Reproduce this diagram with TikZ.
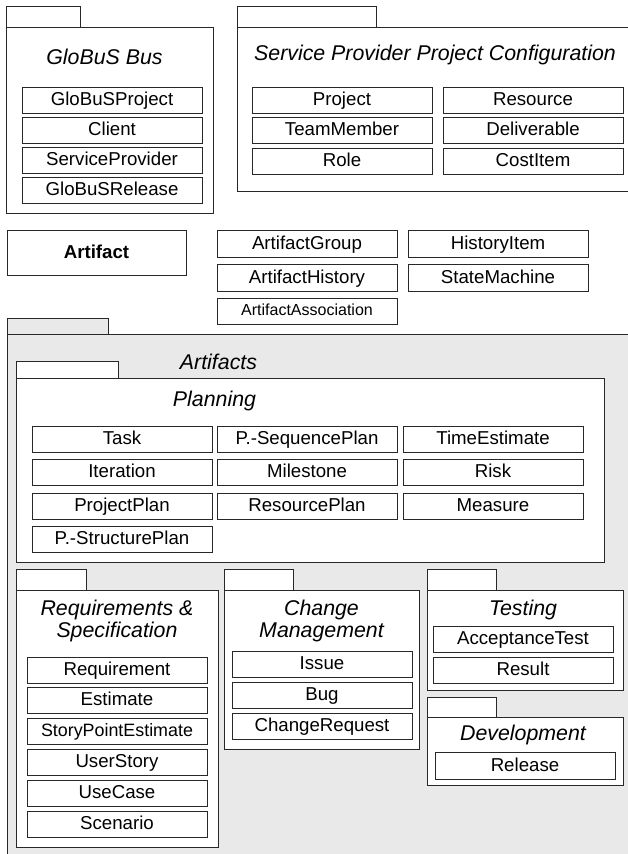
\documentclass[tikz,border=0pt]{standalone}
\usepackage{fontspec}
\setmainfont{Liberation Sans}
\definecolor{linec}{RGB}{40,40,40}
\definecolor{pkggray}{RGB}{233,233,233}
\newcommand\pkbox[7][]{%
  \pgfmathsetmacro\bxw{(#5-#3)*0.75}%
  \pgfmathsetmacro\bxh{(#6-#4)*0.75}%
  \pgfmathsetmacro\bxx{(#3+#5)/2}%
  \pgfmathsetmacro\bxy{(#4+#6)/2}%
  \node[#1, minimum width=\bxw pt, minimum height=\bxh pt] (#2) at (\bxx,\bxy) {#7};}
\begin{document}
\begin{tikzpicture}[x=0.75pt,y=-0.75pt,
  pkg/.style={draw=linec, line width=0.75pt, fill=white, inner sep=0pt},
  graypkg/.style={pkg, fill=pkggray},
  ibox/.style={pkg, font=\fontsize{14pt}{16pt}\selectfont, text height=10.6pt, text depth=2pt},
  smallbox/.style={ibox, font=\fontsize{12pt}{14pt}\selectfont, text height=9.1pt, text depth=1.7pt},
  midbox/.style={ibox, font=\fontsize{13.4pt}{15pt}\selectfont, text height=10.1pt, text depth=1.9pt},
  boldbox/.style={ibox, font=\fontsize{14pt}{16pt}\selectfont\bfseries},
  ptitle/.style={inner sep=0pt, font=\fontsize{16pt}{17pt}\selectfont\itshape, align=center},
]
\useasboundingbox (0,0) rectangle (628,854);

% Artifacts (gray package)
\pkbox[graypkg]{arttab}{7}{318}{108}{334}{}
\pkbox[graypkg]{artpkg}{7}{334}{640}{870}{}
\node[ptitle, anchor=base] (arttitle) at (218.5,369.6) {Artifacts};

% GloBuS Bus
\pkbox[pkg]{gbtab}{6}{6}{80}{27}{}
\pkbox[pkg]{gbpkg}{6}{27}{213}{213}{}
\node[ptitle, anchor=base] (gbtitle) at (104.5,64.6) {GloBuS Bus};
\pkbox[ibox]{gbproj}{22}{87}{202}{113}{GloBuSProject}
\pkbox[ibox]{client}{22}{117}{202}{143}{Client}
\pkbox[ibox]{sprov}{22}{147}{202}{173}{ServiceProvider}
\pkbox[ibox]{gbrel}{22}{177}{202}{203}{GloBuSRelease}

% Service Provider Project Configuration
\pkbox[pkg]{sptab}{237}{6}{376}{27}{}
\pkbox[pkg]{sppkg}{237}{27}{640}{191}{}
\node[ptitle, anchor=base] (sptitle) at (435,60.6) {Service Provider Project Configuration};
\pkbox[ibox]{project}{252}{87}{432}{113}{Project}
\pkbox[ibox]{teammember}{252}{117}{432}{143}{TeamMember}
\pkbox[ibox]{role}{252}{148}{432}{174}{Role}
\pkbox[ibox]{resource}{443}{87}{623}{113}{Resource}
\pkbox[ibox]{deliverable}{443}{117}{623}{143}{Deliverable}
\pkbox[ibox]{costitem}{443}{148}{623}{174}{CostItem}

% Artifact row
\pkbox[boldbox]{artifact}{7}{230}{186}{275}{Artifact}
\pkbox[ibox]{artgroup}{217}{230}{397}{257}{ArtifactGroup}
\pkbox[ibox]{arthist}{217}{264}{397}{291}{ArtifactHistory}
\pkbox[smallbox]{artassoc}{217}{298}{397}{324}{ArtifactAssociation}
\pkbox[ibox]{histitem}{408}{230}{588}{257}{HistoryItem}
\pkbox[ibox]{statemach}{408}{264}{588}{291}{StateMachine}

% Planning
\pkbox[pkg]{pltab}{16}{361}{118}{378}{}
\pkbox[pkg]{plpkg}{16}{378}{604}{562}{}
\node[ptitle, anchor=base] (pltitle) at (214.5,406.5) {Planning};
\pkbox[ibox]{task}{32}{426}{212}{452}{Task}
\pkbox[ibox]{iteration}{32}{459}{212}{485}{Iteration}
\pkbox[ibox]{projplan}{32}{493}{212}{519}{ProjectPlan}
\pkbox[ibox]{pstruct}{32}{526}{212}{552}{P.-StructurePlan}
\pkbox[ibox]{pseq}{217}{426}{397}{452}{P.-SequencePlan}
\pkbox[ibox]{milestone}{217}{459}{397}{485}{Milestone}
\pkbox[ibox]{resplan}{217}{493}{397}{519}{ResourcePlan}
\pkbox[ibox]{timeest}{403}{426}{583}{452}{TimeEstimate}
\pkbox[ibox]{risk}{403}{459}{583}{485}{Risk}
\pkbox[ibox]{measure}{403}{493}{583}{519}{Measure}

% Requirements & Specification
\pkbox[pkg]{rqtab}{16}{569}{86}{590}{}
\pkbox[pkg]{rqpkg}{16}{590}{218}{847}{}
\node[ptitle] (rqtitle) at (117,621) {Requirements \&\\Specification};
\pkbox[ibox]{requirement}{27}{657}{207}{683}{Requirement}
\pkbox[ibox]{estimate}{27}{687}{207}{713}{Estimate}
\pkbox[midbox]{spest}{27}{718}{207}{744}{StoryPointEstimate}
\pkbox[ibox]{userstory}{27}{749}{207}{775}{UserStory}
\pkbox[ibox]{usecase}{27}{780}{207}{806}{UseCase}
\pkbox[ibox]{scenario}{27}{811}{207}{837}{Scenario}

% Change Management
\pkbox[pkg]{cmtab}{224}{569}{293}{590}{}
\pkbox[pkg]{cmpkg}{224}{590}{419}{749}{}
\node[ptitle] (cmtitle) at (321.5,621) {Change\\Management};
\pkbox[ibox]{issue}{232}{651}{412}{677}{Issue}
\pkbox[ibox]{bug}{232}{682}{412}{708}{Bug}
\pkbox[ibox]{changereq}{232}{713}{412}{739}{ChangeRequest}

% Testing
\pkbox[pkg]{tstab}{427}{569}{496}{590}{}
\pkbox[pkg]{tspkg}{427}{590}{623}{690}{}
\node[ptitle, anchor=base] (tstitle) at (523,615.6) {Testing};
\pkbox[ibox]{acctest}{433}{626}{613}{652}{AcceptanceTest}
\pkbox[ibox]{result}{433}{657}{613}{683}{Result}

% Development
\pkbox[pkg]{dvtab}{427}{697}{496}{717}{}
\pkbox[pkg]{dvpkg}{427}{717}{623}{785}{}
\node[ptitle, anchor=base] (dvtitle) at (523,740.6) {Development};
\pkbox[ibox]{release}{435}{752}{615}{779}{Release}
\end{tikzpicture}
\end{document}
